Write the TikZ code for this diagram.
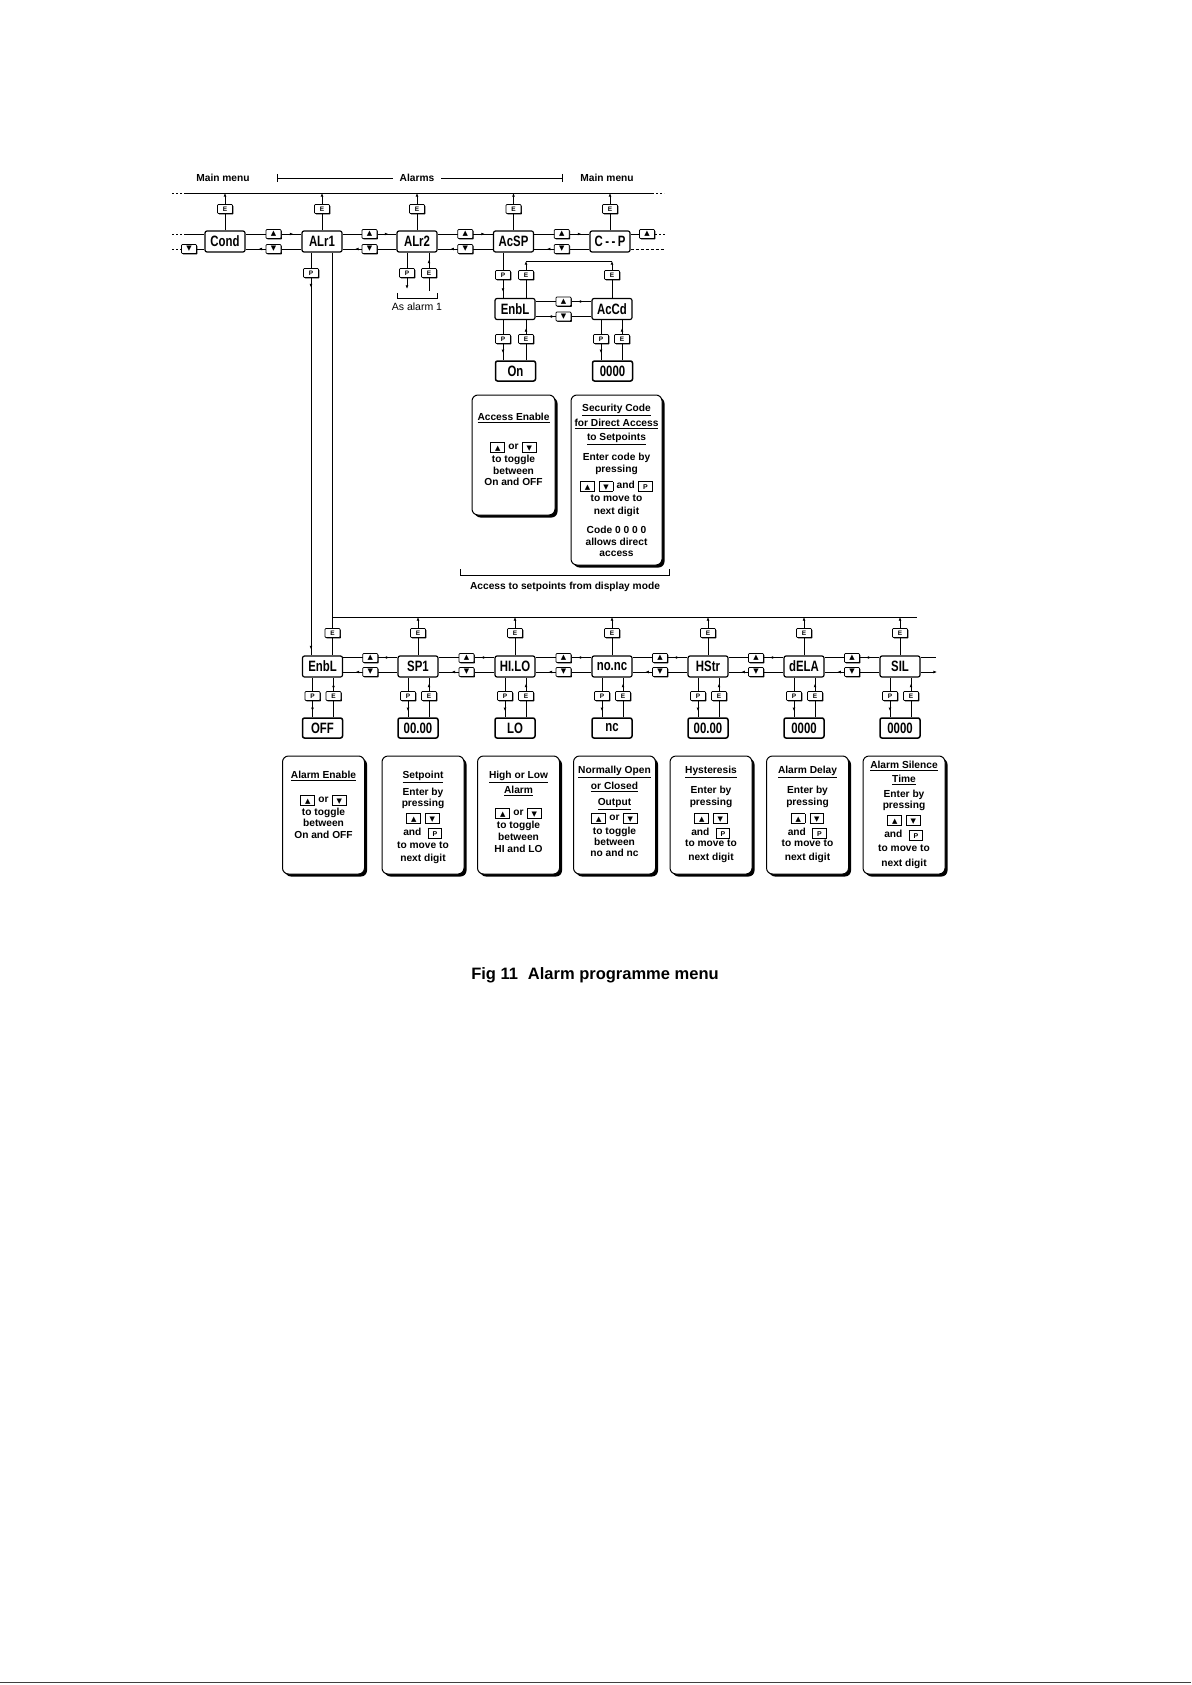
\documentclass[tikz,border=0pt]{standalone}
\usepackage{fontspec}
\setmainfont{Liberation Sans}
\newfontfamily\dispfont[FakeStretch=0.76]{Liberation Sans Bold}
\newfontfamily\symfont{DejaVu Sans}
\usetikzlibrary{arrows.meta,decorations.markings,shadows,calc}

\newcommand\kg[1]{\kern0.6pt\raisebox{-1.5pt}{\setlength\fboxsep{0pt}\setlength\fboxrule{0.75pt}\fbox{\makebox[13pt]{\rule[-0.5pt]{0pt}{8.5pt}#1}}}\kern0.6pt}
\newcommand\kU{\kg{\raisebox{0.8pt}{\symfont\fontsize{7}{7}\selectfont ▲}}}
\newcommand\kD{\kg{\raisebox{0.8pt}{\symfont\fontsize{7}{7}\selectfont ▼}}}
\newcommand\kP{\kg{\raisebox{0.8pt}{\fontsize{7}{7}\selectfont\bfseries P}}}
\newcommand\infolines[3]{\foreach \yy/\txt [count=\i] in {#3}{\node[tl] (#1-\i) at (#2,\yy) {\txt};}}

\tikzset{
  conn/.style={line width=0.7pt},
  dsh/.style={dash pattern=on 2pt off 2pt},
  amark/.style={postaction={decorate,decoration={markings,mark=at position #1 with {\arrow{>}}}}},
  disp/.style={draw, line width=1.2pt, rounded corners=2pt, minimum width=40pt, minimum height=21pt,
    inner sep=0pt, fill=white, font=\dispfont\fontsize{15}{15}\selectfont},
  valbox/.style={disp, minimum height=20pt, line width=1.5pt},
  keybase/.style={draw, line width=0.7pt, rounded corners=0.8pt, minimum width=15pt, minimum height=9pt,
    inner sep=0pt, fill=white, drop shadow={shadow xshift=0.9pt, shadow yshift=-0.9pt, opacity=1, fill=black}},
  ekey/.style={keybase, font=\fontsize{6.5}{6.5}\selectfont\bfseries},
  upkey/.style={keybase, font=\symfont\fontsize{7}{7}\selectfont},
  downkey/.style={keybase, font=\symfont\fontsize{7}{7}\selectfont},
  info/.style={draw, line width=1pt, rounded corners=6pt, fill=white,
    drop shadow={shadow xshift=2.5pt, shadow yshift=-2.5pt, opacity=1, fill=black}},
  tl/.style={font=\fontsize{10.2}{12}\selectfont\bfseries, inner sep=0pt, anchor=base, yshift=-3.6pt},
  lbl/.style={font=\fontsize{10.2}{12}\selectfont\bfseries, inner sep=0pt},
}

\begin{document}
\begin{tikzpicture}[x=1pt,y=-1pt,>={Latex[length=3.6pt,width=2.8pt]}]
\useasboundingbox[fill=white] (0,0) rectangle (1191,1685);

% ---------- headings ----------
\node[lbl] (mm1) at (223,178) {Main menu};
\node[lbl] (alarms) at (417,178) {Alarms};
\node[lbl] (mm2) at (607,178) {Main menu};
\coordinate (brL) at (277,178); \coordinate (brR) at (562,178);
\draw[conn] (brL) -- ([xshift=-7pt]alarms.west);
\draw[conn] ([xshift=7pt]alarms.east) -- (brR);
\draw[conn] ([yshift=4pt]brL) -- ([yshift=-4pt]brL);
\draw[conn] ([yshift=4pt]brR) -- ([yshift=-4pt]brR);

% ---------- top row ----------
\node[disp] (cond) at (225,241.5) {Cond};
\node[disp] (alr1) at (322,241.5) {ALr1};
\node[disp] (alr2) at (417,241.5) {ALr2};
\node[disp] (acsp) at (513.5,241.5) {AcSP};
\node[disp] (cp) at (610,241.5) {C\,-\,-\,P};

\coordinate (ey) at (0,209);
\coordinate (busL) at (185,193); \coordinate (busR) at (652,193);
\coordinate (busLL) at (172,193); \coordinate (busRR) at (664,193);
\draw[conn] (busL) -- (busR);
\draw[conn,dsh] (busLL) -- (busL);
\draw[conn,dsh] (busR) -- (busRR);
\foreach \n in {cond,alr1,alr2,acsp,cp}
  \draw[conn,->] (\n.north) -- (\n.north |- busL);

\foreach \a/\b in {cond/alr1,alr1/alr2,alr2/acsp,acsp/cp}{
  \draw[conn,amark=-8pt] ([yshift=7.5pt]\a.east) -- ([yshift=7.5pt]\b.west);
  \draw[conn,amark=0.77] ([yshift=-7.5pt]\b.west) -- ([yshift=-7.5pt]\a.east);
}
\coordinate (lu0) at (172,234); \coordinate (lu1) at (185,234);
\coordinate (ll0) at (172,249); \coordinate (ll1) at (181,249);
\draw[conn,dsh] (lu0) -- (lu1); \draw[conn] (lu1) -- (lu1 -| cond.west);
\draw[conn,dsh] (ll0) -- (ll1); \draw[conn] (ll1) -- (ll1 -| cond.west);
\coordinate (ru1) at (655,234); \coordinate (ru2) at (665,234); \coordinate (rl2) at (665,249);
\draw[conn] (ru1 -| cp.east) -- (ru1); \draw[conn,dsh] (ru1) -- (ru2);
\draw[conn,dash pattern=on 3pt off 2pt] (rl2 -| cp.east) -- (rl2);

% ALr2 branch
\coordinate (a2p) at (407,289); \coordinate (a2e) at (429,291);
\draw[conn,->] (alr2.south -| a2p) -- (a2p);
\draw[conn,amark=-7pt] (a2e) -- (alr2.south -| a2e);
\coordinate (bk1) at (397,293); \coordinate (bk2) at (437,293);
\draw[conn] (bk1) -- ++(0,5) -- ($(bk2)+(0,5)$) -- (bk2);
\node[font=\fontsize{10.5}{12}\selectfont, inner sep=0pt] (asal) at (417,307) {As alarm 1};

% AcSP branch
\node[disp] (enbl) at (515,309) {EnbL};
\node[disp] (accd) at (612,309) {AcCd};
\node[valbox] (on) at (515.5,371) {On};
\node[valbox] (code) at (612.5,371) {0000};
\coordinate (xp1) at (503,0); \coordinate (xe1) at (526,0);
\coordinate (xp2) at (601,0); \coordinate (xe2) at (622,0);
\coordinate (ebus1) at (526,261); \coordinate (ebus2) at (612,261);
\draw[conn,amark=-6pt] (acsp.south -| xp1) -- (enbl.north -| xp1);
\draw[conn,->] (enbl.north -| ebus1) -- (ebus1);
\draw[conn,->] (accd.north -| ebus2) -- (ebus2);
\draw[conn] (ebus1) -- (ebus2);
\draw[conn,amark=-8pt] ([yshift=7.5pt]enbl.east) -- ([yshift=7.5pt]accd.west);
\draw[conn,amark=0.77] ([yshift=-7.5pt]accd.west) -- ([yshift=-7.5pt]enbl.east);
\draw[conn,amark=-7pt] (enbl.south -| xp1) -- (on.north -| xp1);
\draw[conn,amark=-8pt] (on.north -| xe1) -- (enbl.south -| xe1);
\draw[conn,amark=-7pt] (accd.south -| xp2) -- (code.north -| xp2);
\draw[conn,amark=-8pt] (code.north -| xe2) -- (accd.south -| xe2);

% ---------- bottom row ----------
\node[disp] (enbl2) at (322.5,666.5) {EnbL};
\node[disp] (sp1) at (418,666.5) {SP1};
\node[disp] (hilo) at (515,666.5) {HI.LO};
\node[disp] (nonc) at (612,666.5) {no.nc};
\node[disp] (hstr) at (708,666.5) {HStr};
\node[disp] (dela) at (804,666.5) {dELA};
\node[disp] (sil) at (900,666.5) {SIL};

\node[valbox] (v1) at (322.5,728) {OFF};
\node[valbox] (v2) at (418,728) {00.00};
\node[valbox] (v3) at (515,728) {LO};
\node[valbox] (v4) at (612,728) {nc};
\node[valbox] (v5) at (708,728) {00.00};
\node[valbox] (v6) at (804,728) {0000};
\node[valbox] (v7) at (900,728) {0000};

% ALr1 down to EnbL
\coordinate (xa) at (311,0); \coordinate (xb) at (332.5,0);
\draw[conn,amark=35pt,amark=-6pt] (alr1.south -| xa) -- (enbl2.north -| xa);
\draw[conn] (alr1.south -| xb) -- (enbl2.north -| xb);
\coordinate (bb1) at (332.5,617); \coordinate (bb2) at (917,617);
\coordinate (eby) at (0,633);
\draw[conn] (bb1) -- (bb2);
\foreach \n in {sp1,hilo,nonc,hstr,dela,sil}
  \draw[conn,->] (\n.north) -- (\n.north |- bb1);

\foreach \a/\b in {enbl2/sp1,sp1/hilo,hilo/nonc,nonc/hstr,hstr/dela,dela/sil}{
  \draw[conn,amark=-8pt] ([yshift=9pt]\a.east) -- ([yshift=9pt]\b.west);
  \draw[conn,amark=0.77] ([yshift=-5.5pt]\b.west) -- ([yshift=-5.5pt]\a.east);
}
\coordinate (silU) at (936,657.5); \coordinate (silL) at (937,672);
\draw[conn] ([yshift=9pt]sil.east) -- (silU);
\draw[conn,->] ([yshift=-5.5pt]sil.east) -- (silL);

\foreach \n/\v in {enbl2/v1,sp1/v2,hilo/v3,nonc/v4,hstr/v5,dela/v6,sil/v7}{
  \draw[conn,amark=-6pt] ([xshift=-10pt]\n.south) -- ([xshift=-10pt]\v.north);
  \draw[conn,amark=-6pt] ([xshift=11pt]\v.north) -- ([xshift=11pt]\n.south);
}

% ---------- keys ----------
\foreach \n in {cond,alr1,alr2,acsp,cp}
  \node[ekey] (e\n) at (\n.north |- ey) {E};
\foreach \a/\b [count=\i] in {cond/alr1,alr1/alr2,alr2/acsp,acsp/cp}{
  \node[upkey] (ku\i) at ($(\a.east)!0.5!(\b.west)+(0,-7.5)$) {▲};
  \node[downkey] (kd\i) at ($(\a.east)!0.5!(\b.west)+(0,7.5)$) {▼};
}
\node[downkey] (kdl) at (189,249) {▼};
\node[upkey] (kur) at (647,234) {▲};
\node[ekey] (pa2) at (407,273) {P};
\node[ekey] (ea2) at (429,273) {E};
\node[ekey] (pa1) at (311,273) {P};
\node[ekey] (pcs) at (503,275) {P};
\node[ekey] (ecs) at (526,275) {E};
\node[ekey] (ecd) at (612,275) {E};
\node[upkey] (kue) at ($(enbl.east)!0.5!(accd.west)+(0,-7.5)$) {▲};
\node[downkey] (kde) at ($(enbl.east)!0.5!(accd.west)+(0,7.5)$) {▼};
\node[ekey] (pen) at (503,339) {P};
\node[ekey] (een) at (526,339) {E};
\node[ekey] (pcd) at (601,339) {P};
\node[ekey] (ecd2) at (622,339) {E};

\node[ekey] (eb1) at (332.5,633) {E};
\foreach \n in {sp1,hilo,nonc,hstr,dela,sil}
  \node[ekey] (eb\n) at (\n.north |- eby) {E};
\foreach \a/\b [count=\i] in {enbl2/sp1,sp1/hilo,hilo/nonc,nonc/hstr,hstr/dela,dela/sil}{
  \node[upkey] (bu\i) at ($(\a.east)!0.5!(\b.west)+(0,-8.5)$) {▲};
  \node[downkey] (bd\i) at ($(\a.east)!0.5!(\b.west)+(0,5.5)$) {▼};
}
\foreach \n [count=\i] in {enbl2,sp1,hilo,nonc,hstr,dela,sil}{
  \node[ekey] (bp\i) at ([xshift=-10pt]\n.south |- 0,696) {P};
  \node[ekey] (be\i) at ([xshift=11pt]\n.south |- 0,696) {E};
}

% ---------- info boxes (top) ----------
\node[info, minimum width=83pt, minimum height=120pt] (accen) at (513.5,455) {};
\node[info, minimum width=91pt, minimum height=170pt] (secc) at (616.5,480) {};
\infolines{ta}{513.5}{417/\underline{Access Enable}, 446/\kU{} or \kD, 459/to toggle, 471/between, 482/On and OFF}
\infolines{tb}{616.5}{408/\underline{Security Code}, 423/\underline{for Direct Access}, 437/\underline{to Setpoints}, 457/Enter code by, 469/pressing, 485/\kU\ \kD{} and \kP, 498/to move to, 511/next digit, 530/Code 0 0 0 0, 542/allows direct, 553/access}
\coordinate (sb1) at (460,569); \coordinate (sb2) at (669,569);
\draw[conn] (sb1) -- ++(0,6) -- ($(sb2)+(0,6)$) -- (sb2);
\node[lbl] (accset) at (565,587) {Access to setpoints from display mode};

% ---------- info boxes (bottom) ----------
\foreach \x [count=\i] in {323.5,423,518.5,614.5,711,807.5,904}
  \node[info, minimum width=82pt, minimum height=118pt] (ib\i) at (\x,815) {};
\infolines{c1}{323.5}{775/\underline{Alarm Enable}, 799/\kU{} or \kD, 812/to toggle, 823/between, 835/On and OFF}
\infolines{c2}{423}{775/\underline{Setpoint}, 792/Enter by, 803/pressing, 817/\kU\ \kD, 832/and\ \ \kP, 845/to move to, 858/next digit}
\infolines{c3}{518.5}{775/\underline{High or Low}, 790/\underline{Alarm}, 812/\kU{} or \kD, 825/to toggle, 837/between, 849/HI and LO}
\infolines{c4}{614.5}{770/\underline{Normally Open}, 786/\underline{or Closed}, 802/\underline{Output}, 817/\kU{} or \kD, 831/to toggle, 842/between, 853/no and nc}
\infolines{c5}{711}{770/\underline{Hysteresis}, 790/Enter by, 802/pressing, 817/\kU\ \kD, 832/and\ \ \kP, 843/to move to, 857/next digit}
\infolines{c6}{807.5}{770/\underline{Alarm Delay}, 790/Enter by, 802/pressing, 817/\kU\ \kD, 832/and\ \ \kP, 843/to move to, 857/next digit}
\infolines{c7}{904}{765/\underline{Alarm Silence}, 779/\underline{Time}, 794/Enter by, 805/pressing, 819/\kU\ \kD, 834/and\ \ \kP, 848/to move to, 863/next digit}

% ---------- caption ----------
\node[font=\fontsize{16.5}{18}\selectfont\bfseries, inner sep=0pt] (cap) at (595,975) {Fig 11\hspace{0.6em}Alarm programme menu};

\coordinate (bl1) at (0,1682); \coordinate (bl2) at (1191,1682);
\draw[line width=0.8pt, black!75] (bl1) -- (bl2);
\end{tikzpicture}
\end{document}
